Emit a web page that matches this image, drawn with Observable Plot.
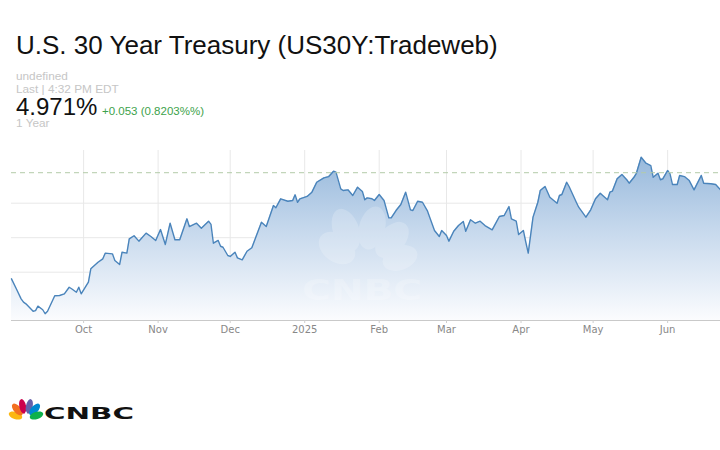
<!DOCTYPE html>
<html>
<head>
<meta charset="utf-8">
<script src="https://cdn.jsdelivr.net/npm/d3@7"></script>
<script src="https://cdn.jsdelivr.net/npm/@observablehq/plot@0.6"></script>
<style>
  html, body { margin: 0; padding: 0; background: #fff; }
  #wrap { position: relative; width: 720px; height: 450px; overflow: hidden; background: #fff; }
  #header, #chart, #overlay, #logo { position: absolute; left: 0; }
  #header { top: 0; }
  #chart { top: 140px; }
  #overlay { top: 140px; pointer-events: none; }
  #logo { top: 390px; }
</style>
</head>
<body>
<div id="wrap">
  <svg id="header" width="720" height="140" font-family="'Liberation Sans', Arial, Helvetica, sans-serif">
    <defs>
      <linearGradient id="areaGrad" gradientUnits="userSpaceOnUse" x1="0" y1="10" x2="0" y2="180">
        <stop offset="0" stop-color="#93b6da"/>
        <stop offset="0.45" stop-color="#c4d7ec"/>
        <stop offset="1" stop-color="#fbfcfe"/>
      </linearGradient>
    </defs>
    <text id="title" x="16" y="54.3" font-size="26" fill="#111"></text>
    <text id="sub1" x="16" y="80.3" font-size="11.8" fill="#c6c6c6"></text>
    <text id="sub2" x="16" y="92.5" font-size="11.8" fill="#c6c6c6"></text>
    <text id="price" x="16" y="114.7" font-size="24" fill="#111"></text>
    <text id="change" x="102" y="114.7" font-size="11.5" fill="#3da24b"></text>
    <text id="range" x="16" y="127" font-size="11.8" fill="#c6c6c6"></text>
  </svg>
  <div id="chart"></div>
  <svg id="overlay" width="720" height="200">
    <g opacity="0.2" fill="#ffffff">
      <ellipse cx="337" cy="108" rx="14" ry="20" transform="rotate(-55 337 108)"/>
      <ellipse cx="346" cy="90" rx="13" ry="22" transform="rotate(-20 346 90)"/>
      <ellipse cx="372" cy="88" rx="13" ry="22" transform="rotate(15 372 88)"/>
      <ellipse cx="392" cy="100" rx="13" ry="21" transform="rotate(40 392 100)"/>
      <ellipse cx="400" cy="118" rx="12" ry="18" transform="rotate(70 400 118)"/>
      <text x="362" y="160" text-anchor="middle" font-family="'DejaVu Sans', sans-serif" font-weight="bold" font-size="28" textLength="120" lengthAdjust="spacingAndGlyphs">CNBC</text>
    </g>
  </svg>
  <svg id="logo" width="200" height="40">
    <g transform="translate(26,30)">
      <ellipse cx="-10.5" cy="-4.5" rx="3.6" ry="7" transform="rotate(-72 -10.5 -4.5)" fill="#fcb711"/>
      <ellipse cx="-8.6" cy="-10.5" rx="3.6" ry="7.2" transform="rotate(-42 -8.6 -10.5)" fill="#f37021"/>
      <ellipse cx="-3.3" cy="-13.6" rx="3.4" ry="7.4" transform="rotate(-12 -3.3 -13.6)" fill="#cc004c"/>
      <ellipse cx="3.3" cy="-13.6" rx="3.4" ry="7.4" transform="rotate(12 3.3 -13.6)" fill="#6460aa"/>
      <ellipse cx="8.6" cy="-10.5" rx="3.6" ry="7.2" transform="rotate(42 8.6 -10.5)" fill="#0089d0"/>
      <ellipse cx="10.5" cy="-4.5" rx="3.6" ry="7" transform="rotate(72 10.5 -4.5)" fill="#0db14b"/>
      <path d="M-4,0 L0,-9 L4,0 Z" fill="#fff"/>
    </g>
    <text x="44" y="29.3" font-family="'DejaVu Sans', sans-serif" font-weight="bold" font-size="16.5" textLength="90" lengthAdjust="spacingAndGlyphs" fill="#111">CNBC</text>
  </svg>
</div>
<script>
// ---- Text ----
const titleText = "U.S. 30 Year Treasury (US30Y:Tradeweb)";
const subLine1 = "undefined";
const subLine2 = "Last | 4:32 PM EDT";
const lastValue = 4.971;
const changeText = "+0.053 (0.8203%%)";
const rangeText = "1 Year";

// ---- Series (30-year yield, %) ----
const dates = [
  "2024-09-01","2024-09-03","2024-09-05","2024-09-06","2024-09-07","2024-09-10","2024-09-11","2024-09-12","2024-09-14","2024-09-15",
  "2024-09-16","2024-09-19","2024-09-21","2024-09-23","2024-09-25","2024-09-26","2024-09-28","2024-09-29","2024-09-30","2024-10-03",
  "2024-10-04","2024-10-07","2024-10-09","2024-10-10","2024-10-13","2024-10-14","2024-10-16","2024-10-17","2024-10-19","2024-10-20",
  "2024-10-22","2024-10-24","2024-10-27","2024-10-29","2024-10-31","2024-11-02","2024-11-04","2024-11-06","2024-11-08","2024-11-10",
  "2024-11-13","2024-11-14","2024-11-17","2024-11-19","2024-11-22","2024-11-23","2024-11-24","2024-11-26","2024-11-27","2024-11-28",
  "2024-11-30","2024-12-01","2024-12-03","2024-12-04","2024-12-06","2024-12-08","2024-12-10","2024-12-14","2024-12-16","2024-12-19",
  "2024-12-20","2024-12-22","2024-12-25","2024-12-27","2024-12-28","2024-12-29","2024-12-30","2025-01-02","2025-01-04","2025-01-06",
  "2025-01-09","2025-01-11","2025-01-13","2025-01-14","2025-01-16","2025-01-17","2025-01-19","2025-01-21","2025-01-23","2025-01-25",
  "2025-01-26","2025-01-27","2025-01-29","2025-01-30","2025-02-01","2025-02-03","2025-02-05","2025-02-06","2025-02-08","2025-02-10",
  "2025-02-12","2025-02-14","2025-02-15","2025-02-17","2025-02-19","2025-02-21","2025-02-22","2025-02-24","2025-02-26","2025-02-27",
  "2025-03-01","2025-03-02","2025-03-04","2025-03-06","2025-03-08","2025-03-09","2025-03-11","2025-03-13","2025-03-15","2025-03-17",
  "2025-03-20","2025-03-23","2025-03-25","2025-03-27","2025-03-28","2025-03-30","2025-03-31","2025-04-02","2025-04-03","2025-04-04",
  "2025-04-06","2025-04-08","2025-04-09","2025-04-11","2025-04-13","2025-04-16","2025-04-17","2025-04-18","2025-04-20","2025-04-21",
  "2025-04-24","2025-04-25","2025-04-28","2025-04-30","2025-05-02","2025-05-04","2025-05-05","2025-05-07","2025-05-08","2025-05-09",
  "2025-05-11","2025-05-13","2025-05-15","2025-05-16","2025-05-18","2025-05-19","2025-05-21","2025-05-23","2025-05-25","2025-05-26",
  "2025-05-28","2025-05-29","2025-05-30","2025-06-01","2025-06-02","2025-06-03","2025-06-05","2025-06-06","2025-06-08","2025-06-10",
  "2025-06-12","2025-06-15","2025-06-16","2025-06-19","2025-06-21","2025-06-23"
];
const yields = [
  4.202,4.130,4.057,4.033,4.021,3.967,3.972,4.004,3.978,3.949,
  3.967,4.079,4.081,4.093,4.141,4.130,4.105,4.141,4.093,4.178,
  4.275,4.322,4.347,4.388,4.383,4.335,4.306,4.395,4.388,4.492,
  4.514,4.475,4.533,4.509,4.480,4.559,4.451,4.605,4.485,4.485,
  4.637,4.581,4.605,4.569,4.620,4.596,4.460,4.480,4.438,4.431,
  4.371,4.364,4.395,4.354,4.340,4.402,4.427,4.612,4.581,4.733,
  4.717,4.782,4.764,4.770,4.811,4.757,4.782,4.799,4.830,4.902,
  4.934,4.943,4.982,4.975,4.854,4.842,4.847,4.806,4.866,4.835,
  4.775,4.789,4.782,4.770,4.813,4.770,4.644,4.644,4.697,4.741,
  4.830,4.702,4.697,4.764,4.757,4.697,4.649,4.552,4.509,4.552,
  4.516,4.475,4.547,4.588,4.617,4.547,4.630,4.605,4.620,4.588,
  4.557,4.654,4.661,4.726,4.637,4.620,4.523,4.552,4.467,4.388,
  4.649,4.757,4.842,4.871,4.793,4.750,4.806,4.813,4.902,4.871,
  4.757,4.721,4.649,4.702,4.782,4.822,4.806,4.775,4.830,4.837,
  4.927,4.958,4.920,4.895,4.938,4.967,5.083,5.040,5.023,4.938,
  4.967,4.920,4.927,4.987,4.963,4.886,4.886,4.951,4.943,4.914,
  4.847,4.951,4.895,4.891,4.886,4.847
];

// ---- Axis ticks ----
const tickDates = ["2024-10-01","2024-11-01","2024-12-01","2025-01-01","2025-02-01","2025-03-01","2025-04-01","2025-05-01","2025-06-01"];
const tickLabels = ["Oct","Nov","Dec","2025","Feb","Mar","Apr","May","Jun"];
const gridValues = [4.25, 4.5, 4.75];
const yDomain = [3.9, 5.132];
const xDomain = ["2024-09-01", "2025-06-23"];

// header text
document.getElementById("title").textContent = titleText;
document.getElementById("sub1").textContent = subLine1;
document.getElementById("sub2").textContent = subLine2;
document.getElementById("price").textContent = lastValue.toFixed(3) + "%";
document.getElementById("change").textContent = changeText;
document.getElementById("range").textContent = rangeText;

const data = dates.map((d, i) => ({date: new Date(d), value: yields[i]}));
const ticks = tickDates.map(d => new Date(d));
const labelMap = new Map(ticks.map((d, i) => [+d, tickLabels[i]]));

const chart = Plot.plot({
  width: 720,
  height: 200,
  marginTop: 10,
  marginBottom: 20,
  marginLeft: 11,
  marginRight: 0,
  style: {fontFamily: "'DejaVu Sans', sans-serif", fontSize: "10px", background: "transparent", color: "#888"},
  x: {type: "utc", domain: xDomain.map(d => new Date(d))},
  y: {domain: yDomain, axis: null},
  marks: [
    Plot.ruleX(ticks, {stroke: "#e8e8e8", strokeWidth: 1}),
    Plot.ruleY(gridValues, {stroke: "#e8e8e8", strokeWidth: 1}),
    Plot.areaY(data, {x: "date", y1: yDomain[0], y2: "value", fill: "url(#areaGrad)"}),
    Plot.lineY(data, {x: "date", y: "value", stroke: "#4a84bb", strokeWidth: 1.4}),
    Plot.ruleY([lastValue], {stroke: "#b3cba9", strokeWidth: 1, strokeDasharray: "5,4"}),
    Plot.ruleY([yDomain[0]], {stroke: "#c9c9c9", strokeWidth: 1}),
    Plot.axisX(ticks, {tickFormat: d => labelMap.get(+d), tickSize: 3, tickPadding: 2.5, stroke: "#cfcfcf", fill: "#888", fontSize: 10})
  ]
});
document.getElementById("chart").appendChild(chart);
</script>
</body>
</html>
